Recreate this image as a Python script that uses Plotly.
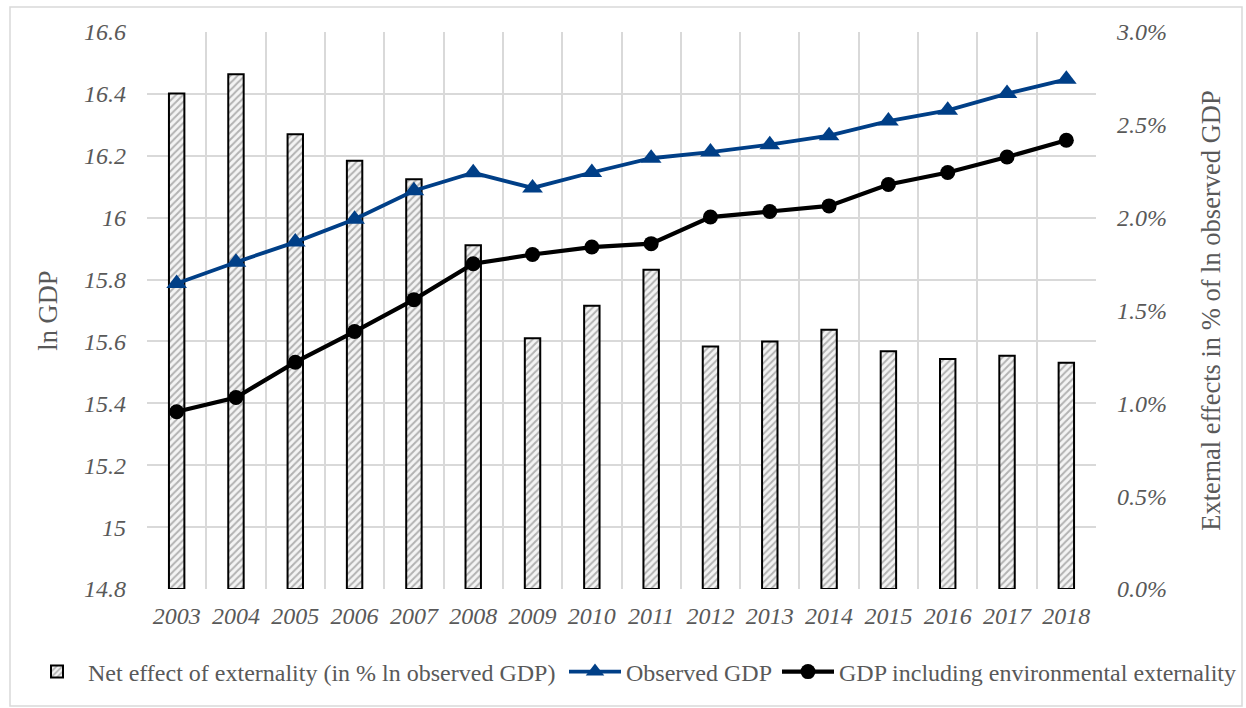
import plotly.graph_objects as go

years = [2003, 2004, 2005, 2006, 2007, 2008, 2009, 2010, 2011, 2012, 2013, 2014, 2015, 2016, 2017, 2018]
net_effect = [0.02669, 0.02772, 0.02449, 0.02306, 0.02207, 0.01851, 0.01351, 0.01525, 0.01720, 0.01306,
              0.01333, 0.01396, 0.01281, 0.01239, 0.01256, 0.01219]
observed_gdp = [15.787, 15.856, 15.921, 15.995, 16.087, 16.145, 16.096, 16.146, 16.192, 16.212,
                16.236, 16.265, 16.312, 16.347, 16.401, 16.447]
gdp_incl = [15.373, 15.419, 15.533, 15.632, 15.735, 15.851, 15.881, 15.905, 15.916, 16.002,
            16.020, 16.038, 16.107, 16.146, 16.196, 16.250]

left_tickvals = [14.8, 15.0, 15.2, 15.4, 15.6, 15.8, 16.0, 16.2, 16.4, 16.6]
left_ticktext = ["14.8", "15", "15.2", "15.4", "15.6", "15.8", "16", "16.2", "16.4", "16.6"]
right_tickvals = [0.0, 0.005, 0.01, 0.015, 0.02, 0.025, 0.03]
right_ticktext = ["0.0%", "0.5%", "1.0%", "1.5%", "2.0%", "2.5%", "3.0%"]

FONT = "Liberation Serif"
GRAY = "#595959"
GRID = "#d9d9d9"
BLUE = "#003f87"

# plot area geometry (px)
L, R, T, B = 147, 150, 32, 119
W, H = 1246, 708
PW, PH = W - L - R, H - T - B


def px_x(px):
    return (px - L) / PW


def px_y(py):
    return (H - B - py) / PH


fig = go.Figure()
fig.add_trace(go.Bar(
    x=years, y=net_effect, width=0.26, yaxis="y", legend="legend",
    name="Net effect of externality (in % ln observed GDP)",
    marker=dict(color="white", line=dict(color="black", width=2),
                pattern=dict(shape="/", fgcolor="#707070", bgcolor="#f4f4f4", size=5, solidity=0.4)),
))
fig.add_trace(go.Scatter(
    x=years, y=observed_gdp, yaxis="y2", mode="lines+markers", name="Observed GDP", legend="legend2",
    line=dict(color=BLUE, width=3.8),
    marker=dict(symbol="triangle-up", size=18, color=BLUE),
))
fig.add_trace(go.Scatter(
    x=years, y=gdp_incl, yaxis="y2", mode="lines+markers", name="GDP including environmental externality",
    legend="legend3",
    line=dict(color="black", width=4.2),
    marker=dict(symbol="circle", size=15, color="black"),
))

tickfont = dict(family=FONT, size=24, color=GRAY, style="italic")
legfont = dict(family=FONT, size=24, color=GRAY)
leg_common = dict(orientation="h", xanchor="left", yanchor="middle", y=px_y(672),
                  font=legfont, itemwidth=52, bgcolor="rgba(0,0,0,0)", borderwidth=0)

fig.update_layout(
    width=W, height=H,
    margin=dict(l=L, r=R, t=T, b=B, autoexpand=False),
    paper_bgcolor="white", plot_bgcolor="white",
    font=dict(family=FONT, color=GRAY),
    showlegend=True,
    legend=dict(x=px_x(88 - 62), **leg_common),
    legend2=dict(x=px_x(626 - 62), **leg_common),
    legend3=dict(x=px_x(839 - 62), **leg_common),
    xaxis=dict(
        range=[2002.5, 2018.5], tickvals=years, ticktext=[str(y) for y in years],
        tickfont=tickfont, showgrid=False, zeroline=False, showline=False,
        ticks="", ticklabelstandoff=10,
        minor=dict(tick0=2002.5, dtick=1, showgrid=True, gridcolor=GRID, gridwidth=2, ticks=""),
    ),
    yaxis=dict(
        side="right", range=[0, 0.03], tickvals=right_tickvals, ticktext=right_ticktext,
        tickfont=tickfont, showgrid=False, zeroline=False, showline=False,
        ticklabelstandoff=20,
        title=dict(text="External effects in % of ln observed GDP",
                   font=dict(family=FONT, size=26.5, color=GRAY), standoff=35),
    ),
    yaxis2=dict(
        side="left", overlaying="y", range=[14.8, 16.6],
        tickvals=left_tickvals, ticktext=left_ticktext,
        tickfont=tickfont, showgrid=True, gridcolor=GRID, gridwidth=2,
        zeroline=False, showline=False, ticklabelstandoff=20,
        title=dict(text="ln GDP", font=dict(family=FONT, size=26.5, color=GRAY), standoff=18),
    ),
    shapes=[dict(type="rect", xref="paper", yref="paper",
                 x0=px_x(10), x1=px_x(1242), y0=px_y(706), y1=px_y(7),
                 line=dict(color=GRID, width=1.5), fillcolor="rgba(0,0,0,0)", layer="below")],
)

fig.write_html("out.html")
